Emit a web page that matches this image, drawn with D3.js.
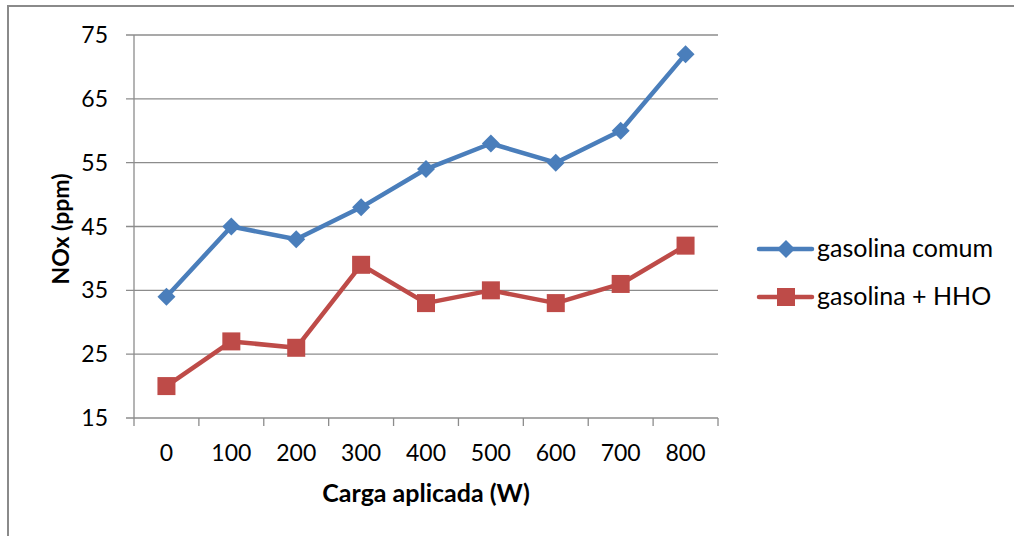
<!DOCTYPE html>
<html><head><meta charset="utf-8">
<script src="https://cdn.jsdelivr.net/npm/d3@7"></script>
<style>body{margin:0;background:#fff}svg{display:block}text{font-family:Lato,"Open Sans",sans-serif;fill:#000}</style>
</head><body><svg id="c" width="1014" height="536"></svg>
<script>
const categories = ["0","100","200","300","400","500","600","700","800"];
const seriesNames = ["gasolina comum","gasolina + HHO"];
const comum = [34,45,43,48,54,58,55,60,72];
const hho = [20,27,26,39,33,35,33,36,42];
const yTicks = [15,25,35,45,55,65,75];

const svg = d3.select("#c");
svg.append("rect").attr("x",8).attr("y",6).attr("width",1010).attr("height",540)
  .attr("fill","none").attr("stroke","#8a8a8a").attr("stroke-width",2);

const L=134,R=718,T=35,B=418;
const x = d3.scaleBand().domain(categories).range([L,R]);
const y = d3.scaleLinear().domain([15,75]).range([B,T]);
const grid="#8c8c8c";

svg.append("g").selectAll("line").data(yTicks).join("line")
  .attr("x1",L-8).attr("x2",R).attr("y1",d=>y(d)).attr("y2",d=>y(d))
  .attr("stroke",grid).attr("stroke-width",1.3);
svg.append("line").attr("x1",L).attr("x2",L).attr("y1",T).attr("y2",B+8).attr("stroke",grid).attr("stroke-width",1.3);
const edges = categories.map(c=>x(c)+x.bandwidth());
svg.append("g").selectAll("line").data(edges).join("line")
  .attr("x1",d=>d).attr("x2",d=>d).attr("y1",B).attr("y2",B+8).attr("stroke",grid).attr("stroke-width",1.3);

svg.append("g").selectAll("text").data(yTicks).join("text")
  .attr("x",108).attr("y",d=>y(d)+8).attr("text-anchor","end").attr("font-size",23).text(d=>d);
svg.append("g").selectAll("text").data(categories).join("text")
  .attr("x",d=>x(d)+x.bandwidth()/2).attr("y",461).attr("text-anchor","middle").attr("font-size",23).text(d=>d);

svg.append("text").attr("transform","translate(69,229) rotate(-90)").attr("text-anchor","middle")
  .attr("font-size",23).attr("font-weight","bold").text("NOx (ppm)");
svg.append("text").attr("x",426).attr("y",502).attr("text-anchor","middle")
  .attr("font-size",25).attr("font-weight","bold").text("Carga aplicada (W)");

const cx = c=>x(c)+x.bandwidth()/2;
const line = d3.line().x((d,i)=>cx(categories[i])).y(d=>y(d));
const blue="#4a7ebb", red="#be4b48";
svg.append("path").datum(comum).attr("d",line).attr("fill","none").attr("stroke",blue).attr("stroke-width",4.5).attr("stroke-linejoin","round");
svg.append("path").datum(hho).attr("d",line).attr("fill","none").attr("stroke",red).attr("stroke-width",4.5).attr("stroke-linejoin","round");
const dia = d3.symbol().type(d3.symbolSquare).size(162);
svg.append("g").selectAll("path").data(comum).join("path")
  .attr("d",dia).attr("transform",(d,i)=>`translate(${cx(categories[i])},${y(d)}) rotate(45)`).attr("fill",blue);
svg.append("g").selectAll("rect").data(hho).join("rect")
  .attr("x",(d,i)=>cx(categories[i])-9).attr("y",d=>y(d)-9).attr("width",18).attr("height",18).attr("fill",red);

// legend
const ly=[249,297], cols=[blue,red];
seriesNames.forEach((n,i)=>{
  svg.append("line").attr("x1",759).attr("x2",812).attr("y1",ly[i]).attr("y2",ly[i]).attr("stroke",cols[i]).attr("stroke-width",4.5).attr("stroke-linecap","round");
  if(i===0) svg.append("path").attr("d",dia).attr("transform",`translate(786,${ly[i]}) rotate(45)`).attr("fill",blue);
  else svg.append("rect").attr("x",777).attr("y",ly[i]-9).attr("width",18).attr("height",18).attr("fill",red);
  svg.append("text").attr("x",817).attr("y",ly[i]+8).attr("font-size",25).text(n);
});
</script></body></html>
